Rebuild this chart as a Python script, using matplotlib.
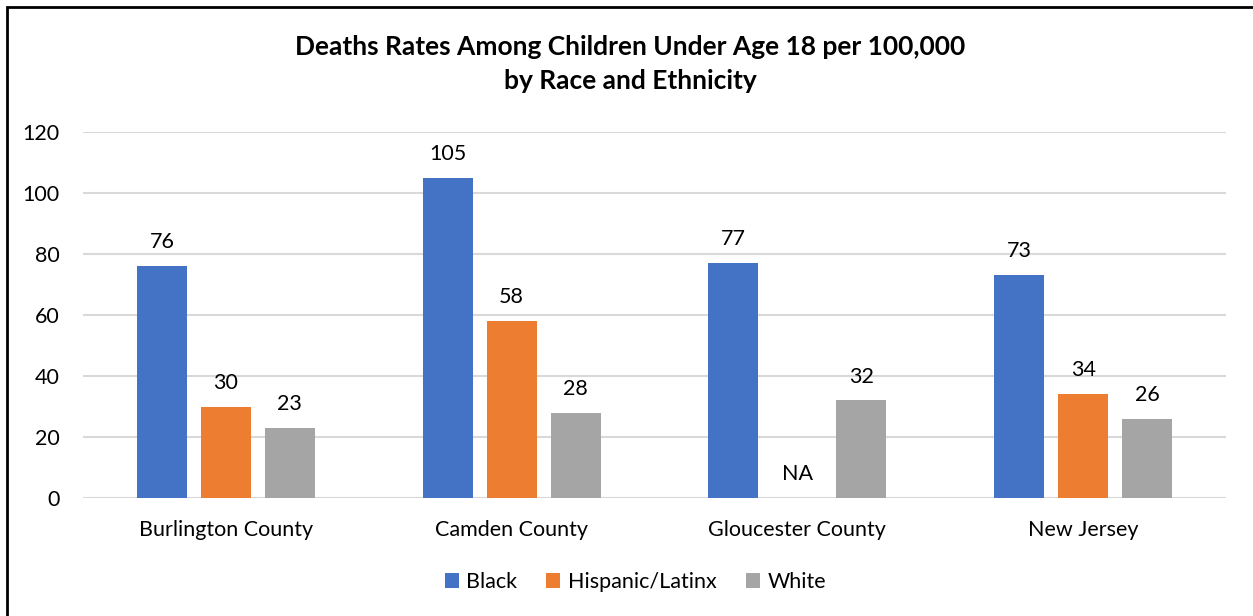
import matplotlib
matplotlib.use("Agg")
import matplotlib.pyplot as plt
import numpy as np
from matplotlib.patches import Rectangle

categories = ["Burlington County", "Camden County", "Gloucester County", "New Jersey"]
series_names = ["Black", "Hispanic/Latinx", "White"]
black = [76, 105, 77, 73]
hispanic = [30, 58, None, 34]
white = [23, 28, 32, 26]
colors = ["#4472C4", "#ED7D31", "#A5A5A5"]
yticks = [0, 20, 40, 60, 80, 100, 120]

plt.rcParams['font.family'] = ['Lato', 'DejaVu Sans']

fig = plt.figure(figsize=(12.53, 6.16), dpi=100)
W, H = 1253, 616
ax = fig.add_axes([83 / W, 1 - 498 / H, (1226 - 83) / W, (498 - 132) / H])

FS = 15.5
x = np.arange(len(categories))
width = 0.175
offset = 0.224
for i, (vals, name, c) in enumerate(zip([black, hispanic, white], series_names, colors)):
    pos = x + (i - 1) * offset
    v = [0 if val is None else val for val in vals]
    ax.bar(pos, v, width, color=c, label=name, zorder=3)
    for p, val in zip(pos, vals):
        lab = "NA" if val is None else str(val)
        y = 0 if val is None else val
        ax.annotate(lab, (p, y), xytext=(0, 10), textcoords="offset points",
                    ha="center", va="bottom", fontsize=FS, color="#000000")

ax.set_xlim(-0.5, len(categories) - 0.5)
ax.set_ylim(0, 120)
ax.set_yticks(yticks)
ax.set_xticks(x)
ax.set_xticklabels(categories)
ax.tick_params(axis="both", length=0, labelsize=FS, colors="#000000")
ax.tick_params(axis="x", pad=16)
ax.tick_params(axis="y", pad=17)
ax.grid(axis="y", color="#D9D9D9", linewidth=1.5, zorder=0)
for s in ax.spines.values():
    s.set_visible(False)

TFS = 19
fig.text(0.503, 1 - 47 / H, "Deaths Rates Among Children Under Age 18 per 100,000",
         ha="center", va="center", fontsize=TFS, fontweight="bold")
fig.text(0.503, 1 - 81 / H, "by Race and Ethnicity",
         ha="center", va="center", fontsize=TFS, fontweight="bold")

handles, labels = ax.get_legend_handles_labels()
fig.legend(handles, labels, loc="center", bbox_to_anchor=(0.507, 1 - 582 / H),
           ncol=3, frameon=False, fontsize=FS, handlelength=0.65, handleheight=0.65,
           columnspacing=1.35, handletextpad=0.35)

fig.patches.append(Rectangle((7 / W, -0.1), 1.2, 1 - 7 / H + 0.1, transform=fig.transFigure,
                             fill=False, edgecolor="#000000", linewidth=2))

fig.savefig("out.png", dpi=100)
